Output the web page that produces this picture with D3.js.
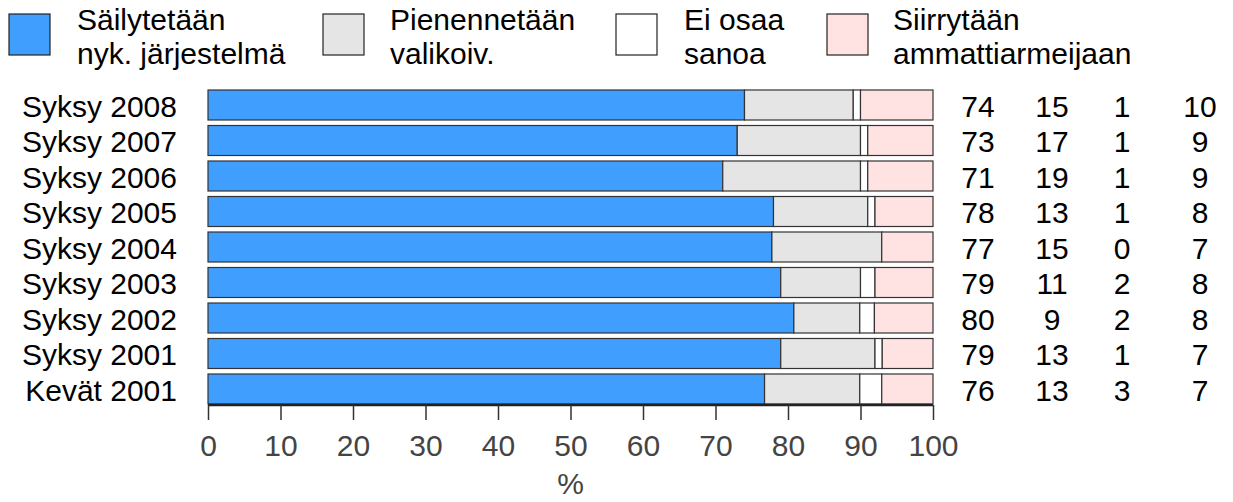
<!DOCTYPE html>
<html>
<head>
<meta charset="utf-8">
<script src="https://cdn.jsdelivr.net/npm/d3@7"></script>
<style>
  html, body { margin: 0; padding: 0; background: #fff; }
  svg { display: block; font-family: "Liberation Sans", Arial, sans-serif; }
</style>
</head>
<body>
<svg id="chart" width="1233" height="502"></svg>
<script>
// Survey periods, newest first (drawn top to bottom)
const periods = ["Syksy 2008", "Syksy 2007", "Syksy 2006", "Syksy 2005", "Syksy 2004",
                 "Syksy 2003", "Syksy 2002", "Syksy 2001", "Kevät 2001"];

// Answer shares (%) per period
const keepCurrent   = [74, 73, 71, 78, 77, 79, 80, 79, 76];
const reduceSelect  = [15, 17, 19, 13, 15, 11,  9, 13, 13];
const cannotSay     = [ 1,  1,  1,  1,  0,  2,  2,  1,  3];
const professional  = [10,  9,  9,  8,  7,  8,  8,  7,  7];

const seriesKeys   = ["keep", "reduce", "unsure", "pro"];
const seriesLabels = [["Säilytetään", "nyk. järjestelmä"], ["Pienennetään", "valikoiv."],
                      ["Ei osaa", "sanoa"], ["Siirrytään", "ammattiarmeijaan"]];
const seriesColors = ["#409EFF", "#E5E5E5", "#FFFFFF", "#FFE3E3"];

const xTicks = [0, 10, 20, 30, 40, 50, 60, 70, 80, 90, 100];

const rows = periods.map((p, i) => ({
  period: p, keep: keepCurrent[i], reduce: reduceSelect[i],
  unsure: cannotSay[i], pro: professional[i]
}));

const svg = d3.select("#chart");
const FS = 30;

const x = d3.scaleLinear().domain([0, 100]).range([208, 933]);
const y = d3.scaleBand().domain(periods).range([87.25, 406.75])
  .paddingInner(0.155).paddingOuter(0.0775);
const color = d3.scaleOrdinal().domain(seriesKeys).range(seriesColors);

// Each bar spans the full width: shares are scaled to their row total
const stacked = d3.stack().keys(seriesKeys).offset(d3.stackOffsetExpand)(rows);

svg.append("g").selectAll("g")
  .data(stacked)
  .join("g")
  .attr("fill", d => color(d.key))
  .selectAll("rect")
  .data(d => d)
  .join("rect")
  .attr("x", d => x(d[0] * 100))
  .attr("width", d => x(d[1] * 100) - x(d[0] * 100))
  .attr("y", d => y(d.data.period))
  .attr("height", y.bandwidth())
  .attr("stroke", "#333")
  .attr("stroke-width", 1.2);

// Period labels on the left
svg.append("g").selectAll("text")
  .data(periods)
  .join("text")
  .attr("x", 177)
  .attr("y", d => y(d) + y.bandwidth() / 2 + 11.5)
  .attr("text-anchor", "end")
  .attr("font-size", FS)
  .attr("fill", "#000")
  .text(d => d);

// Value columns on the right
const colX = [978, 1052, 1122, 1200];
seriesKeys.forEach((k, j) => {
  svg.append("g").selectAll("text")
    .data(rows)
    .join("text")
    .attr("x", colX[j])
    .attr("y", d => y(d.period) + y.bandwidth() / 2 + 11.5)
    .attr("text-anchor", "middle")
    .attr("font-size", FS)
    .attr("fill", "#000")
    .text(d => d[k]);
});

// Bottom axis
const axis = svg.append("g")
  .attr("transform", "translate(0,405)")
  .call(d3.axisBottom(x).tickValues(xTicks).tickSize(15).tickPadding(15).tickFormat(d3.format("d")));
axis.select(".domain").attr("stroke", "#222").attr("stroke-width", 2.5).attr("d", `M${x(0)},0H${x(100)}`);
axis.selectAll(".tick line").attr("stroke", "#333").attr("stroke-width", 1.5);
axis.selectAll(".tick text")
  .attr("font-size", FS)
  .attr("font-family", "\"Liberation Sans\", Arial, sans-serif")
  .attr("fill", "#444");

svg.append("text")
  .attr("x", (x(0) + x(100)) / 2)
  .attr("y", 494)
  .attr("text-anchor", "middle")
  .attr("font-size", FS)
  .attr("fill", "#444")
  .text("%");

// Legend
const legendBoxX  = [9, 323, 616, 827];
const legendTextX = [77, 390, 684, 893];
const legend = svg.append("g");
seriesKeys.forEach((k, j) => {
  legend.append("rect")
    .attr("x", legendBoxX[j]).attr("y", 14)
    .attr("width", 41).attr("height", 41)
    .attr("fill", color(k))
    .attr("stroke", "#222").attr("stroke-width", 1.2);
  const t = legend.append("text")
    .attr("font-size", FS).attr("fill", "#000");
  seriesLabels[j].forEach((line, li) => {
    t.append("tspan").attr("x", legendTextX[j]).attr("y", 30 + li * 33.5).text(line);
  });
});
</script>
</body>
</html>
